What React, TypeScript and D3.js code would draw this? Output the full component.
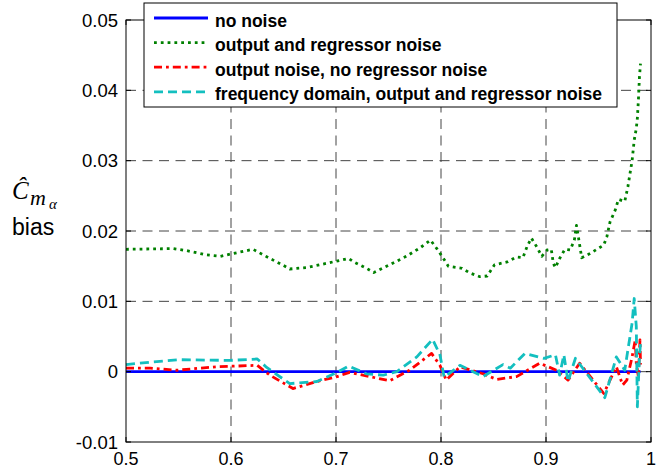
import * as d3 from "d3"

// series data
const blueX = [0.5, 0.99]
const blueY = [0, 0]

const greenX = [0.5, 0.545, 0.558, 0.577, 0.59, 0.599, 0.621, 0.637, 0.65, 0.656, 0.672, 0.691, 0.712, 0.717, 0.729, 0.736, 0.751, 0.767, 0.78, 0.79, 0.796, 0.801, 0.807, 0.82, 0.828, 0.837, 0.844, 0.851, 0.863, 0.872, 0.878, 0.882, 0.886, 0.891, 0.896, 0.901, 0.905, 0.907, 0.909, 0.913, 0.918, 0.923, 0.927, 0.929, 0.931, 0.934, 0.942, 0.955, 0.958, 0.961, 0.966, 0.969, 0.975, 0.978, 0.982, 0.984, 0.986, 0.987, 0.988, 0.989, 0.99]
const greenY = [0.0174, 0.0175, 0.0172, 0.0166, 0.0164, 0.0167, 0.0174, 0.0161, 0.0151, 0.0146, 0.0148, 0.0154, 0.0161, 0.0156, 0.0147, 0.0141, 0.0152, 0.0164, 0.0176, 0.0187, 0.0175, 0.0164, 0.015, 0.0147, 0.014, 0.0135, 0.0136, 0.0152, 0.0156, 0.0163, 0.0162, 0.0178, 0.019, 0.0178, 0.0164, 0.0173, 0.0174, 0.0154, 0.0148, 0.0161, 0.0174, 0.0173, 0.0187, 0.0208, 0.019, 0.0162, 0.0168, 0.018, 0.0192, 0.0213, 0.023, 0.0245, 0.0242, 0.0263, 0.03, 0.0329, 0.0346, 0.036, 0.0386, 0.0419, 0.0438]

const redX = [0.5, 0.523, 0.548, 0.586, 0.625, 0.637, 0.659, 0.682, 0.701, 0.713, 0.751, 0.77, 0.791, 0.799, 0.805, 0.818, 0.84, 0.853, 0.872, 0.894, 0.91, 0.921, 0.932, 0.955, 0.967, 0.973, 0.977, 0.982, 0.985, 0.986, 0.988, 0.9895, 0.99]
const redY = [0.0005, 0.0005, 0.0002, 0.0007, 0.0009, -0.0005, -0.0024, -0.0014, -0.0007, -0.0001, -0.0013, 0.0002, 0.0026, 0.0009, -0.0012, 0.0007, -0.0003, -0.0011, -0.0007, 0.0012, 0.0002, -0.0012, 0.0012, -0.0031, 0.0007, -0.0019, -0.0012, 0.0021, 0.0045, 0.0012, -0.0007, 0.0045, 0.001]

const cyanX = [0.5, 0.526, 0.551, 0.599, 0.625, 0.634, 0.656, 0.682, 0.701, 0.712, 0.729, 0.745, 0.758, 0.777, 0.792, 0.799, 0.803, 0.818, 0.84, 0.859, 0.866, 0.88, 0.898, 0.909, 0.913, 0.917, 0.921, 0.928, 0.934, 0.956, 0.967, 0.975, 0.978, 0.982, 0.984, 0.986, 0.987, 0.989, 0.99]
const cyanY = [0.001, 0.0014, 0.0017, 0.0016, 0.0018, 0.0006, -0.0017, -0.0014, -0.0001, 0.0008, -0.0003, -0.0005, 0, 0.0021, 0.0046, 0.0024, -0.0008, 0.0009, -0.0007, 0.001, 0.0005, 0.0026, 0.0019, 0.0024, -0.0005, 0.0024, -0.0014, 0.0019, 0.0007, -0.0037, 0.0021, 0.0002, 0.0031, 0.0069, 0.0104, 0.0064, -0.005, 0.0021, 0.004]

const xTicks = [0.5, 0.6, 0.7, 0.8, 0.9, 1]
const yTicks = [-0.01, 0, 0.01, 0.02, 0.03, 0.04, 0.05]

const legendLabels = [
  "no noise",
  "output and regressor noise",
  "output noise, no regressor noise",
  "frequency domain, output and regressor noise",
]

const series = [
  { xs: blueX, ys: blueY, color: "#0000ff", dash: "none" },
  { xs: greenX, ys: greenY, color: "#008000", dash: "2.8 4" },
  { xs: redX, ys: redY, color: "#ff0000", dash: "8 4 2.8 4" },
  { xs: cyanX, ys: cyanY, color: "#13bfbf", dash: "9 5" },
]

const W = 656
const H = 469
const left = 126
const right = 651
const top = 20
const bottom = 442

export default function App() {
  const x = d3.scaleLinear().domain([0.5, 1]).range([left, right])
  const y = d3.scaleLinear().domain([-0.01, 0.05]).range([bottom, top])

  const line = d3.line<number>()
  const sans = "'Liberation Sans', Arial, sans-serif"
  const serif = "'Liberation Serif', 'Times New Roman', serif"

  const fmt = (v: number) => (v === 0 ? "0" : d3.format(".2f")(v).replace("−", "-"))

  return (
    <svg width={W} height={H} style={{ position: "absolute", left: 0, top: 0, background: "#fff" }}>
      <rect x={0} y={0} width={W} height={H} fill="#fff" />

      {/* grid */}
      {xTicks.slice(1, -1).map(t => (
        <line key={"gx" + t} x1={x(t)} x2={x(t)} y1={top} y2={bottom}
          stroke="#444" strokeWidth={1} strokeDasharray="10 6.5" />
      ))}
      {yTicks.slice(1, -1).map(t => (
        <line key={"gy" + t} x1={left} x2={right} y1={y(t)} y2={y(t)}
          stroke="#444" strokeWidth={1} strokeDasharray="10 6.5" />
      ))}

      {/* series */}
      {series.map((s, i) => (
        <path key={"s" + i}
          d={line.x((_, k) => x(s.xs[k])).y(v => y(v))(s.ys) || ""}
          fill="none" stroke={s.color} strokeWidth={2.8}
          strokeDasharray={s.dash} strokeLinejoin="round" />
      ))}

      {/* frame */}
      <rect x={left} y={top} width={right - left} height={bottom - top} fill="none" stroke="#000" strokeWidth={1} />

      {/* ticks */}
      {xTicks.map(t => (
        <g key={"tx" + t}>
          <line x1={x(t)} x2={x(t)} y1={bottom} y2={bottom - 5} stroke="#000" />
          <line x1={x(t)} x2={x(t)} y1={top} y2={top + 5} stroke="#000" />
          <text x={x(t)} y={465} textAnchor="middle" fontFamily={sans} fontSize={18}>{t === 1 ? "1" : t.toFixed(1)}</text>
        </g>
      ))}
      {yTicks.map(t => (
        <g key={"ty" + t}>
          <line x1={left} x2={left + 5} y1={y(t)} y2={y(t)} stroke="#000" />
          <line x1={right} x2={right - 5} y1={y(t)} y2={y(t)} stroke="#000" />
          <text x={118} y={y(t) + 6.5} textAnchor="end" fontFamily={sans} fontSize={18.5}>{fmt(t)}</text>
        </g>
      ))}

      {/* y label */}
      <text x={12} y={199} fontFamily={serif} fontStyle="italic" fontSize={25}>Ĉ</text>
      <text x={30} y={205} fontFamily={serif} fontStyle="italic" fontSize={22}>m</text>
      <text x={49} y={209} fontFamily={serif} fontStyle="italic" fontSize={15}>α</text>
      <text x={12} y={235} fontFamily={sans} fontSize={23}>bias</text>

      {/* legend */}
      <rect x={144} y={3} width={473} height={104} fill="#fff" stroke="#000" strokeWidth={1} />
      {legendLabels.map((lab, i) => {
        const ly = 18 + i * 24.6
        const s = series[i]
        return (
          <g key={"lg" + i}>
            <line x1={154} x2={208} y1={ly} y2={ly} stroke={s.color} strokeWidth={2.8} strokeDasharray={s.dash} />
            <text x={215} y={ly + 8.5} fontFamily={sans} fontWeight="bold" fontSize={17.5}>{lab}</text>
          </g>
        )
      })}
    </svg>
  )
}
